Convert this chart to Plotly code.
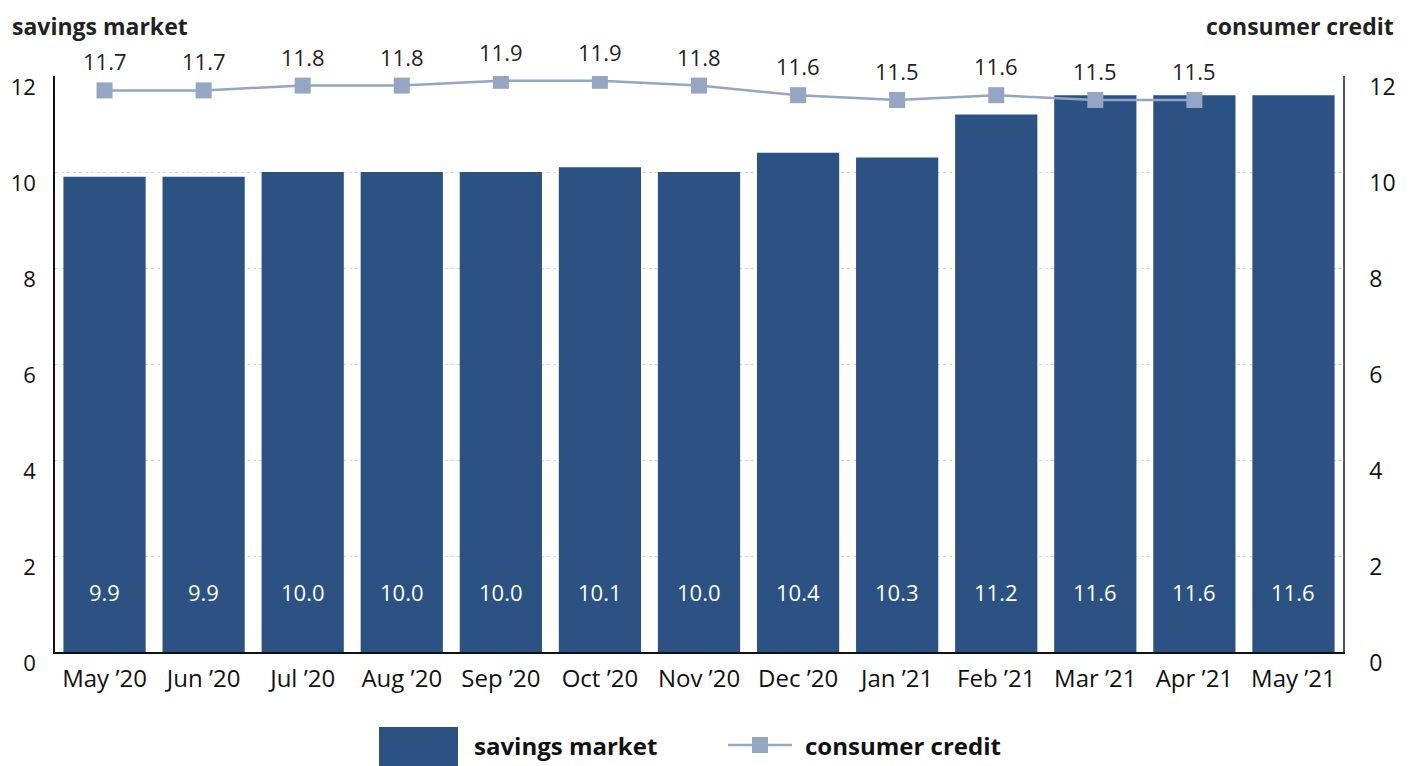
import plotly.graph_objects as go

months = ["May \u201920", "Jun \u201920", "Jul \u201920", "Aug \u201920", "Sep \u201920", "Oct \u201920",
          "Nov \u201920", "Dec \u201920", "Jan \u201921", "Feb \u201921", "Mar \u201921", "Apr \u201921",
          "May \u201921"]
savings_market = [9.9, 9.9, 10.0, 10.0, 10.0, 10.1, 10.0, 10.4, 10.3, 11.2, 11.6, 11.6, 11.6]
consumer_credit = [11.7, 11.7, 11.8, 11.8, 11.9, 11.9, 11.8, 11.6, 11.5, 11.6, 11.5, 11.5]
y_ticks = [0, 2, 4, 6, 8, 10, 12]

BAR = "#2b5282"
LINE = "#94a6c3"
FONT = "Open Sans"

# page has an 8px body margin; figure sized to the visible area
OFF = 8
W, H = 1414 - OFF, 766 - OFF
l, t = 55 - OFF, 76 - OFF
pw, ph = 1343 - 55, 652 - 76
r, b = W - l - pw, H - t - ph


def px(x):
    return (x - OFF - l) / pw


def py(y):
    return 1 - (y - OFF - t) / ph


fig = go.Figure()
fig.add_trace(go.Bar(x=months, y=savings_market, marker=dict(color=BAR, line=dict(width=0)),
                     name="savings market", showlegend=False, yaxis="y"))
fig.add_trace(go.Scatter(x=months[:len(consumer_credit)], y=consumer_credit, mode="lines+markers",
                         line=dict(color=LINE, width=2.5),
                         marker=dict(symbol="square", size=16, color=LINE),
                         name="consumer credit", showlegend=False, yaxis="y2"))

annotations = []
for m, v in zip(months, savings_market):
    annotations.append(dict(x=m, y=0, xref="x", yref="y", text=f"{v:.1f}", showarrow=False,
                            yanchor="middle", yshift=60,
                            font=dict(family=FONT, size=22, color="white")))
for m, v in zip(months, consumer_credit):
    annotations.append(dict(x=m, y=v, xref="x", yref="y2", text=f"{v:.1f}", showarrow=False,
                            yanchor="middle", yshift=29,
                            font=dict(family=FONT, size=22, color="#222222")))

annotations.append(dict(x=px(10), y=py(8), xref="paper", yref="paper", xanchor="left",
                        yanchor="top", text="<b>savings market</b>", showarrow=False,
                        font=dict(family=FONT, size=23, color="#222222")))
annotations.append(dict(x=px(1396), y=py(8), xref="paper", yref="paper", xanchor="right",
                        yanchor="top", text="<b>consumer credit</b>", showarrow=False,
                        font=dict(family=FONT, size=23, color="#222222")))
annotations.append(dict(x=px(472), y=py(745), xref="paper", yref="paper", xanchor="left",
                        yanchor="middle", text="<b>savings market</b>", showarrow=False,
                        font=dict(family=FONT, size=24, color="#111111")))
annotations.append(dict(x=px(803), y=py(745), xref="paper", yref="paper", xanchor="left",
                        yanchor="middle", text="<b>consumer credit</b>", showarrow=False,
                        font=dict(family=FONT, size=24, color="#111111")))

shapes = [
    dict(type="rect", xref="paper", yref="paper", x0=px(379), x1=px(458),
         y0=py(767), y1=py(727), fillcolor=BAR, line=dict(width=0)),
    dict(type="line", xref="paper", yref="paper", x0=px(728), x1=px(792),
         y0=py(745), y1=py(745), line=dict(color=LINE, width=2.5)),
    dict(type="rect", xref="paper", yref="paper", x0=px(752), x1=px(768),
         y0=py(753), y1=py(737), fillcolor=LINE, line=dict(width=0)),
]

fig.update_layout(
    width=W, height=H,
    margin=dict(l=l, r=r, t=t, b=b, autoexpand=False),
    paper_bgcolor="white", plot_bgcolor="white",
    bargap=0.17,
    font=dict(family=FONT, size=24, color="#111111"),
    xaxis=dict(type="category", range=[-0.5, 12.5], showgrid=False, showline=True,
               linecolor="#111111", linewidth=1.5, ticks="", tickfont=dict(size=24),
               ticklabelstandoff=4, automargin=False),
    yaxis=dict(range=[0, 12], tickvals=y_ticks, showgrid=True, gridcolor="#d6dcea",
               griddash="dot", gridwidth=1, showline=True, linecolor="#111111", linewidth=1.5,
               ticks="", tickfont=dict(size=22), zeroline=False, ticklabelstandoff=13,
               ticklabelshift=11, automargin=False),
    yaxis2=dict(range=[0, 12], tickvals=y_ticks, overlaying="y", side="right", showgrid=False,
                showline=True, linecolor="#555555", linewidth=1.5, ticks="",
                tickfont=dict(size=23), zeroline=False, ticklabelstandoff=20,
                ticklabelshift=11, automargin=False),
    annotations=annotations, shapes=shapes,
)

fig.write_html("out.html")
